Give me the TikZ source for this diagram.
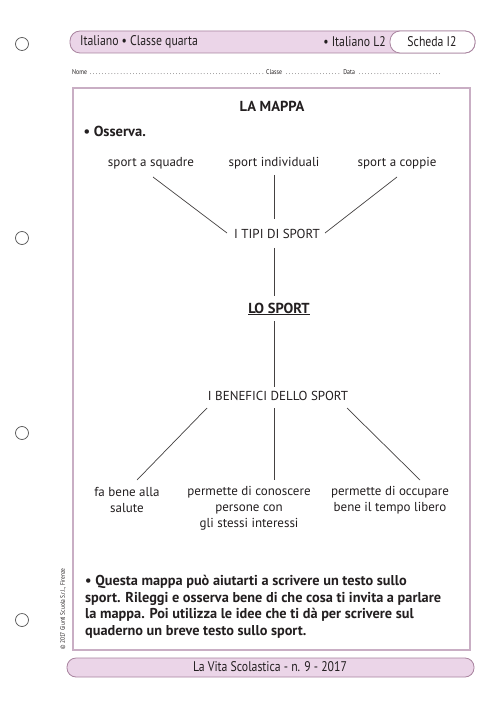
\documentclass[tikz,border=0pt]{standalone}
\usepackage{fontspec}
\setmainfont{PT Sans}
\newfontfamily\condfont[FakeStretch=0.84]{PT Sans}
\usetikzlibrary{calc}
\definecolor{bandfill}{HTML}{EBD5E8}
\definecolor{bandline}{HTML}{A9849F}
\definecolor{boxline}{HTML}{C9AEC4}
\definecolor{ink}{HTML}{231F20}
\definecolor{holeline}{HTML}{555555}
\begin{document}
\begin{tikzpicture}[x=1pt,y=-1pt,
  hole/.style={circle,draw=holeline,line width=0.7pt,minimum size=13pt,inner sep=0pt},
  band/.style={draw=bandline,fill=bandfill,line width=0.8pt,rounded corners=10pt},
  maptext/.style={font=\fontsize{13}{16}\selectfont,text=ink,inner sep=1pt,align=center},
  conn/.style={draw=ink!85,line width=0.7pt},
  hdrtext/.style={font=\condfont\fontsize{14}{16}\selectfont,text=ink,inner sep=0pt},
  boldtext/.style={font=\bfseries\fontsize{14.5}{16}\selectfont,text=ink}]
\useasboundingbox (0,0) rectangle (500,708);
\fill[white] (0,0) rectangle (500,708);

% punch holes
\node[hole] (h1) at (22,44) {};
\node[hole] (h2) at (22,238) {};
\node[hole] (h3) at (22,433) {};
\node[hole] (h4) at (22,620) {};

% header band
\draw[band] (70,31) rectangle (475,53);
\draw[band,fill=white] (390,31) rectangle (475,53);
\node[hdrtext,anchor=west] (hdl) at (80,42) {Italiano • Classe quarta};
\node[hdrtext,anchor=east] (hdm) at (386,42) {• Italiano L2};
\node[hdrtext] (hds) at (432,42) {Scheda I2};

% name line
\node[anchor=base west,inner sep=0pt,font=\condfont\fontsize{7}{8}\selectfont,text=ink] (nome) at (72,75)
 {Nome \makebox[176pt]{\dotfill} Classe \makebox[58pt]{\dotfill} Data \makebox[86pt]{\dotfill}};

% main box
\draw[draw=boxline,line width=1.2pt] (73,88) rectangle (470,650);

% copyright
\node[rotate=90,anchor=west,inner sep=0pt,font=\condfont\fontsize{6.5}{7}\selectfont,text=ink] (copy) at (63,650)
 {© 2017 Giunti Scuola S.r.l., Firenze};

% title
\node[boldtext] (title) at (272,106) {LA MAPPA};
\node[boldtext,anchor=west] (oss) at (80,131) {• Osserva.};

% map nodes
\node[maptext] (sq) at (151,163) {sport a squadre};
\node[maptext] (ind) at (274,163) {sport individuali};
\node[maptext] (cop) at (397,163) {sport a coppie};
\node[maptext] (tipi) at (277,234) {I TIPI DI SPORT};
\node[maptext,boldtext] (lo) at (279,309) {\underline{LO SPORT}};
\node[maptext] (ben) at (278,396) {I BENEFICI DELLO SPORT};
\node[maptext] (fa) at (127,500) {fa bene alla\\salute};
\node[maptext] (con) at (249,508) {permette di conoscere\\persone con\\gli stessi interessi};
\node[maptext] (occ) at (390,500) {permette di occupare\\bene il tempo libero};

% connectors
\draw[conn] ($(sq.center)+(2,14)$) -- ($(tipi.center)+(-50,-1)$);
\draw[conn] ($(ind.center)+(0,12)$) -- ($(tipi.center)+(-3,-15)$);
\draw[conn] ($(cop.center)+(0,14)$) -- ($(tipi.center)+(48,-1)$);
\draw[conn] ($(tipi.center)+(-3,14)$) -- ($(lo.center)+(-5,-13)$);
\draw[conn] ($(lo.center)+(-5,12)$) -- ($(ben.center)+(-4,-9)$);
\draw[conn] ($(ben.center)+(-71,12)$) -- ($(fa.center)+(10,-20)$);
\draw[conn] ($(ben.center)+(-4,12)$) -- ($(con.center)+(25,-28)$);
\draw[conn] ($(ben.center)+(69,12)$) -- ($(occ.center)+(30,-20)$);

% instruction paragraph
\node[anchor=north west,inner sep=0pt,align=left,text=ink,font=\bfseries\fontsize{14.3}{16.7}\selectfont] (par) at (85,575)
 {• Questa mappa può aiutarti a scrivere un testo sullo\\
  sport. Rileggi e osserva bene di che cosa ti invita a parlare\\
  la mappa. Poi utilizza le idee che ti dà per scrivere sul\\
  quaderno un breve testo sullo sport.};

% footer band
\draw[band,rounded corners=9pt] (67,658) rectangle (474,677);
\node[hdrtext] (foot) at (270,667) {La Vita Scolastica - n. 9 - 2017};
\end{tikzpicture}
\end{document}
